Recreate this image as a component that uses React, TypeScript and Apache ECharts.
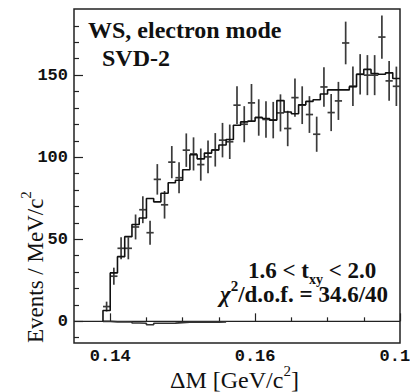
import React, { useEffect, useRef } from "react";
import * as echarts from "echarts";

// ---- data ----
const binCenters = [
  0.1395, 0.1405, 0.1415, 0.1425, 0.1435, 0.1445, 0.1455, 0.1465, 0.1475, 0.1485,
  0.1495, 0.1505, 0.1515, 0.1525, 0.1535, 0.1545, 0.1555, 0.1565, 0.1575, 0.1585,
  0.1595, 0.1605, 0.1615, 0.1625, 0.1635, 0.1645, 0.1655, 0.1665, 0.1675, 0.1685,
  0.1695, 0.1705, 0.1715, 0.1725, 0.1735, 0.1745, 0.1755, 0.1765, 0.1775, 0.1785,
  0.1795,
];
const binHalfWidth = 0.0005;

const dataCounts = [
  9, 27.5, 44.5, 44.5, 57.5, 68, 54, 86.5, 71, 97,
  87.5, 104.3, 102, 95.5, 100.2, 104.5, 110.4, 109.4, 131.7, 120.1,
  133.1, 124.2, 123, 122.6, 127, 117.5, 136.3, 131.7, 126, 114,
  142.8, 127.2, 134.3, 169.6, 143.2, 150.5, 150, 150, 173.2, 146.5,
  143.2,
];
const dataErrors = [
  3.0, 5.2, 6.7, 6.7, 7.6, 8.2, 7.3, 9.3, 8.4, 9.8,
  9.4, 10.2, 10.1, 9.8, 10.0, 10.2, 10.5, 10.5, 11.5, 11.0,
  11.5, 11.1, 11.1, 11.1, 11.3, 10.8, 11.7, 11.5, 11.2, 10.7,
  12.0, 11.3, 11.6, 13.0, 12.0, 12.3, 12.2, 12.2, 13.2, 12.1,
  12.0,
];
const fitValues = [
  6.6, 29.5, 39.4, 51.6, 59, 63, 74.8, 72.8, 78, 84.4,
  86, 92.4, 101.5, 99, 102.5, 104.4, 107.4, 110.8, 119.5, 121.5,
  122, 124.2, 123.6, 122.6, 134.5, 127.5, 126.5, 132, 134, 135,
  138.5, 141, 141, 141, 143, 150.5, 153.5, 151, 150.5, 151.4,
  148,
];
const bkgValues = [
  0, -0.3, -0.3, -0.4, -1.0, -1.2, -2.1, -1.2, -1.2, -1.1,
  -0.8, -0.5, -0.5, -0.5, -0.5, -0.5, -0.4,
];

const xRange = [0.135, 0.18];
const yRange = [-13.2, 190.3];
const xMajorTicks = [0.14, 0.16, 0.18];
const xMinorTicks = [0.145, 0.15, 0.155, 0.165, 0.17, 0.175];
const yMajorTicks = [0, 50, 100, 150];
const yMinorTicks = [-10, 10, 20, 30, 40, 60, 70, 80, 90, 110, 120, 130, 140, 160, 170, 180];

const titleLine = "WS, electron mode";
const subTitle = "SVD-2";

// ---- helpers ----
let measureCtx: CanvasRenderingContext2D | null = null;
function textWidth(t: string, font: string): number {
  if (!measureCtx) measureCtx = document.createElement("canvas").getContext("2d");
  if (!measureCtx) return t.length * 10;
  measureCtx.font = font;
  return measureCtx.measureText(t).width;
}

type Part = { t: string; size: number; weight?: string; italic?: boolean; dy?: number; family: string };

function buildLine(parts: Part[], x: number, baseline: number, color: string): any[] {
  let cx = x;
  const out: any[] = [];
  for (const p of parts) {
    const font = `${p.italic ? "italic" : "normal"} ${p.weight || "normal"} ${p.size}px ${p.family}`;
    out.push({
      type: "text",
      x: cx,
      y: baseline + (p.dy || 0) - 0.34 * p.size,
      style: {
        text: p.t,
        font,
        fill: color,
        textAlign: "left",
        textVerticalAlign: "middle",
        verticalAlign: "middle",
      },
    });
    cx += textWidth(p.t, font);
  }
  return out;
}

function histPoints(values: number[]): number[][] {
  const pts: number[][] = [[binCenters[0] - binHalfWidth, 0]];
  values.forEach((v, i) => {
    pts.push([binCenters[i] - binHalfWidth, v]);
    pts.push([binCenters[i] + binHalfWidth, v]);
  });
  return pts;
}

const SERIF = "'Liberation Serif', 'Times New Roman', serif";
const MONO = "'Liberation Mono', 'DejaVu Sans Mono', monospace";

export default function App() {
  const ref = useRef<HTMLDivElement>(null);
  useEffect(() => {
    if (!ref.current) return;
    const chart = echarts.init(ref.current, undefined, { renderer: "svg" });

    const tickLabelStyle = {
      fontFamily: MONO,
      fontWeight: "bold" as const,
      fontSize: 17,
      color: "#111",
    };

    const graphics: any[] = [];
    graphics.push(...buildLine([{ t: titleLine, size: 24, weight: "bold", family: SERIF }], 88, 38, "#111"));
    graphics.push(...buildLine([{ t: subTitle, size: 24, weight: "bold", family: SERIF }], 102, 66, "#111"));
    graphics.push(
      ...buildLine(
        [
          { t: "1.6 < t", size: 23, weight: "bold", family: SERIF },
          { t: "xy", size: 14, weight: "bold", family: SERIF, dy: 6 },
          { t: " < 2.0", size: 23, weight: "bold", family: SERIF },
        ],
        248,
        278,
        "#111"
      )
    );
    graphics.push(
      ...buildLine(
        [
          { t: "\u03c7", size: 23, weight: "bold", italic: true, family: SERIF },
          { t: "2", size: 15, weight: "bold", family: SERIF, dy: -11 },
          { t: "/d.o.f. = 34.6/40", size: 23, weight: "bold", family: SERIF },
        ],
        220,
        302,
        "#111"
      )
    );
    // x-axis title
    graphics.push(
      ...buildLine(
        [
          { t: "\u0394M [GeV/c", size: 24, family: SERIF },
          { t: "2", size: 15, family: SERIF, dy: -12 },
          { t: "]", size: 24, family: SERIF },
        ],
        170,
        388,
        "#111"
      )
    );
    // y-axis title (rotated)
    graphics.push({
      type: "group",
      x: 43,
      y: 343,
      rotation: Math.PI / 2,
      children: buildLine(
        [
          { t: "Events / MeV/c", size: 23, family: SERIF },
          { t: "2", size: 15, family: SERIF, dy: -12 },
        ],
        0,
        0,
        "#111"
      ),
    });

    const option: any = {
      animation: false,
      backgroundColor: "#fff",
      grid: {
        left: 74,
        right: 10,
        top: 9,
        bottom: 49,
        show: true,
        borderColor: "#222",
        borderWidth: 1.5,
        containLabel: false,
        outerBoundsMode: "none",
      },
      xAxis: [
        {
          type: "value",
          position: "bottom",
          min: xRange[0],
          max: xRange[1],
          axisLine: { show: false },
          splitLine: { show: false },
          axisTick: { show: true, inside: true, length: 4, customValues: xMinorTicks, lineStyle: { color: "#222", width: 1.2 } },
          axisLabel: { show: false },
        },
        {
          type: "value",
          position: "bottom",
          min: xRange[0],
          max: xRange[1],
          axisLine: { show: false },
          splitLine: { show: false },
          axisTick: { show: true, inside: true, length: 8, customValues: xMajorTicks, lineStyle: { color: "#222", width: 1.2 } },
          axisLabel: {
            show: true,
            customValues: xMajorTicks,
            showMaxLabel: true,
            showMinLabel: true,
            margin: 5,
            formatter: (v: number) => v.toFixed(2),
            ...tickLabelStyle,
          },
        },
      ],
      yAxis: [
        {
          type: "value",
          position: "left",
          min: yRange[0],
          max: yRange[1],
          axisLine: { show: false },
          splitLine: { show: false },
          axisTick: { show: true, inside: true, length: 5, customValues: yMinorTicks, lineStyle: { color: "#222", width: 1.2 } },
          axisLabel: { show: false },
        },
        {
          type: "value",
          position: "left",
          min: yRange[0],
          max: yRange[1],
          axisLine: { show: false },
          splitLine: { show: false },
          axisTick: { show: true, inside: true, length: 9, customValues: yMajorTicks, lineStyle: { color: "#222", width: 1.2 } },
          axisLabel: {
            show: true,
            customValues: yMajorTicks,
            margin: 6,
            formatter: (v: number) => String(v),
            ...tickLabelStyle,
          },
        },
      ],
      series: [
        {
          type: "line",
          name: "zero",
          data: [[xRange[0], 0], [xRange[1], 0]],
          symbol: "none",
          lineStyle: { color: "#222", width: 1.2 },
          silent: true,
        },
        {
          type: "line",
          name: "background",
          data: histPoints(bkgValues),
          symbol: "none",
          lineStyle: { color: "#333", width: 1.6 },
          silent: true,
        },
        {
          type: "custom",
          name: "data",
          data: binCenters.map((x, i) => [x, dataCounts[i], dataErrors[i]]),
          encode: { x: 0, y: 1 },
          renderItem: (params: any, api: any) => {
            const x = api.value(0);
            const v = api.value(1);
            const e = api.value(2);
            const c = api.coord([x, v]);
            const top = api.coord([x, v + e]);
            const bot = api.coord([x, v - e]);
            const l = api.coord([x - binHalfWidth, v]);
            const r = api.coord([x + binHalfWidth, v]);
            const style = { stroke: "#3a3a3a", lineWidth: 1.7 };
            return {
              type: "group",
              children: [
                { type: "line", shape: { x1: c[0], y1: top[1], x2: c[0], y2: bot[1] }, style },
                { type: "line", shape: { x1: l[0], y1: c[1], x2: r[0], y2: c[1] }, style },
              ],
            };
          },
          silent: true,
        },
        {
          type: "line",
          name: "fit",
          data: histPoints(fitValues),
          symbol: "none",
          lineStyle: { color: "#111", width: 1.6 },
          silent: true,
        },
      ],
      graphic: graphics,
    };
    chart.setOption(option);
    return () => chart.dispose();
  }, []);

  return (
    <div
      ref={ref}
      style={{ position: "fixed", left: 0, top: 0, width: 410, height: 392, background: "#fff" }}
    />
  );
}
